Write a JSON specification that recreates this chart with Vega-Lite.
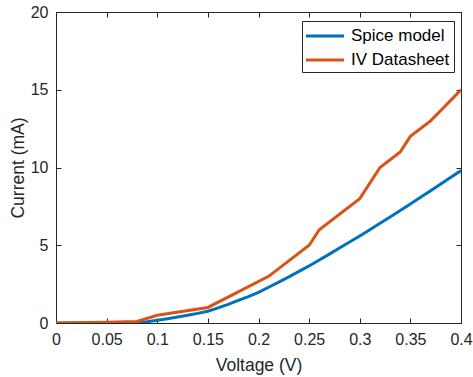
{
  "$schema": "https://vega.github.io/schema/vega-lite/v6.json",
  "autosize": {"type": "none"},
  "padding": {"left": 56, "top": 12, "right": 12, "bottom": 54},
  "width": 405,
  "height": 311,
  "background": "white",
  "config": {
    "font": "Liberation Sans",
    "view": {"stroke": "#262626", "strokeWidth": 1},
    "axis": {"grid": false, "domainColor": "#262626", "tickColor": "#262626", "labelColor": "#262626", "titleColor": "#262626", "labelFont": "Liberation Sans", "titleFont": "Liberation Sans", "labelFontSize": 16, "titleFontSize": 17.5, "titleFontWeight": "normal", "tickSize": -5, "domainWidth": 1}
  },
  "data": {"values": [
    {"v": 0, "i": 0, "s": "Spice model"},
    {"v": 0.05, "i": 0, "s": "Spice model"},
    {"v": 0.07, "i": 0.005, "s": "Spice model"},
    {"v": 0.08, "i": 0.02, "s": "Spice model"},
    {"v": 0.09, "i": 0.08, "s": "Spice model"},
    {"v": 0.1, "i": 0.17, "s": "Spice model"},
    {"v": 0.11, "i": 0.27, "s": "Spice model"},
    {"v": 0.12, "i": 0.38, "s": "Spice model"},
    {"v": 0.13, "i": 0.5, "s": "Spice model"},
    {"v": 0.14, "i": 0.62, "s": "Spice model"},
    {"v": 0.15, "i": 0.76, "s": "Spice model"},
    {"v": 0.16, "i": 0.97, "s": "Spice model"},
    {"v": 0.17, "i": 1.2, "s": "Spice model"},
    {"v": 0.18, "i": 1.45, "s": "Spice model"},
    {"v": 0.19, "i": 1.7, "s": "Spice model"},
    {"v": 0.2, "i": 1.97, "s": "Spice model"},
    {"v": 0.21, "i": 2.3, "s": "Spice model"},
    {"v": 0.22, "i": 2.63, "s": "Spice model"},
    {"v": 0.23, "i": 2.97, "s": "Spice model"},
    {"v": 0.24, "i": 3.32, "s": "Spice model"},
    {"v": 0.25, "i": 3.67, "s": "Spice model"},
    {"v": 0.26, "i": 4.05, "s": "Spice model"},
    {"v": 0.27, "i": 4.43, "s": "Spice model"},
    {"v": 0.28, "i": 4.82, "s": "Spice model"},
    {"v": 0.29, "i": 5.21, "s": "Spice model"},
    {"v": 0.3, "i": 5.6, "s": "Spice model"},
    {"v": 0.31, "i": 6.0, "s": "Spice model"},
    {"v": 0.32, "i": 6.41, "s": "Spice model"},
    {"v": 0.33, "i": 6.82, "s": "Spice model"},
    {"v": 0.34, "i": 7.23, "s": "Spice model"},
    {"v": 0.35, "i": 7.65, "s": "Spice model"},
    {"v": 0.36, "i": 8.08, "s": "Spice model"},
    {"v": 0.37, "i": 8.51, "s": "Spice model"},
    {"v": 0.38, "i": 8.94, "s": "Spice model"},
    {"v": 0.39, "i": 9.37, "s": "Spice model"},
    {"v": 0.4, "i": 9.8, "s": "Spice model"},
    {"v": 0, "i": 0, "s": "IV Datasheet"},
    {"v": 0.05, "i": 0.05, "s": "IV Datasheet"},
    {"v": 0.08, "i": 0.1, "s": "IV Datasheet"},
    {"v": 0.1, "i": 0.5, "s": "IV Datasheet"},
    {"v": 0.15, "i": 1.0, "s": "IV Datasheet"},
    {"v": 0.21, "i": 3.0, "s": "IV Datasheet"},
    {"v": 0.25, "i": 5.0, "s": "IV Datasheet"},
    {"v": 0.26, "i": 6.0, "s": "IV Datasheet"},
    {"v": 0.3, "i": 8.0, "s": "IV Datasheet"},
    {"v": 0.32, "i": 10.0, "s": "IV Datasheet"},
    {"v": 0.34, "i": 11.0, "s": "IV Datasheet"},
    {"v": 0.35, "i": 12.0, "s": "IV Datasheet"},
    {"v": 0.37, "i": 13.0, "s": "IV Datasheet"},
    {"v": 0.4, "i": 15.0, "s": "IV Datasheet"}
  ]},
  "layer": [
    {
      "mark": {"type": "line", "strokeWidth": 3, "clip": true},
      "encoding": {
        "x": {"field": "v", "type": "quantitative", "scale": {"domain": [0, 0.4], "nice": false}, "axis": {"title": "Voltage (V)", "values": [0, 0.05, 0.1, 0.15, 0.2, 0.25, 0.3, 0.35, 0.4], "format": ".2~f", "labelPadding": 13, "titlePadding": 9, "labelFlush": false}},
        "y": {"field": "i", "type": "quantitative", "scale": {"domain": [0, 20], "nice": false}, "axis": {"title": "Current (mA)", "values": [0, 5, 10, 15, 20], "labelPadding": 13, "titlePadding": 3, "labelFlush": false}},
        "color": {"field": "s", "type": "nominal", "sort": ["Spice model", "IV Datasheet"], "scale": {"domain": ["Spice model", "IV Datasheet"], "range": ["#0072BD", "#D95319"]},
          "legend": {"title": null, "orient": "none", "legendX": 246, "legendY": 9, "symbolType": "M-2,0H2", "symbolSize": 361, "symbolStrokeWidth": 3, "symbolFillColor": "transparent", "labelFontSize": 17, "labelFont": "Liberation Sans", "labelColor": "#000000", "strokeColor": "#262626", "padding": 4, "rowPadding": 5, "symbolOffset": 8, "labelOffset": 15, "fillColor": "white", "labelLimit": 250}}
      }
    },
    {
      "mark": {"type": "line", "opacity": 0},
      "encoding": {
        "x": {"field": "v", "type": "quantitative", "scale": {"domain": [0, 0.4], "nice": false}, "axis": {"orient": "top", "title": null, "labels": false, "values": [0, 0.05, 0.1, 0.15, 0.2, 0.25, 0.3, 0.35, 0.4]}},
        "y": {"field": "i", "type": "quantitative", "scale": {"domain": [0, 20], "nice": false}, "axis": {"orient": "right", "title": null, "labels": false, "values": [0, 5, 10, 15, 20]}}
      }
    }
  ],
  "resolve": {"axis": {"x": "independent", "y": "independent"}}
}
